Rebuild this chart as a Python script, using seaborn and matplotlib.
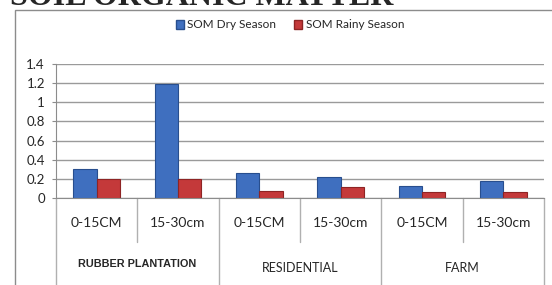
import matplotlib
matplotlib.use("Agg")
import matplotlib.pyplot as plt
import matplotlib.transforms as mtransforms
from matplotlib.patches import Rectangle, Patch
import pandas as pd
import seaborn as sns

groups = ["RUBBER PLANTATION", "RESIDENTIAL", "FARM"]
depths = ["0-15CM", "15-30cm"]
som_dry = [0.30, 1.19, 0.26, 0.22, 0.13, 0.18]
som_rainy = [0.20, 0.20, 0.07, 0.11, 0.06, 0.06]
series = ["SOM Dry Season", "SOM Rainy Season"]
colors = ["#3F6FBF", "#C4393A"]
edges = ["#284E8E", "#8E2424"]

keys = [f"{g}|{d}" for g in groups for d in depths]
df = pd.DataFrame({
    "key": keys * 2,
    "value": som_dry + som_rainy,
    "season": [series[0]] * len(keys) + [series[1]] * len(keys),
})

sns.set_style("white")
plt.rcParams["font.family"] = ["Lato", "DejaVu Sans"]

W, H = 552, 285
fig = plt.figure(figsize=(W / 100, H / 100), dpi=100)
ax = fig.add_axes([56 / W, 1 - 198 / H, (544 - 56) / W, (198 - 64) / H])

sns.barplot(data=df, x="key", y="value", hue="season", order=keys,
            palette=colors, width=0.57, ax=ax, legend=False, saturation=1)
for i, cont in enumerate(ax.containers):
    for bar in cont:
        bar.set_edgecolor(edges[i])
        bar.set_linewidth(0.8)

ax.set_ylim(0, 1.4)
ax.set_xlim(-0.5, len(keys) - 0.5)
ax.set_yticks([0, 0.2, 0.4, 0.6, 0.8, 1, 1.2, 1.4])
ax.set_yticklabels(["0", "0.2", "0.4", "0.6", "0.8", "1", "1.2", "1.4"], fontsize=9.5)
ax.yaxis.grid(True, color="#9a9a9a", linewidth=1)
ax.set_axisbelow(True)
ax.tick_params(axis="y", length=3, color="#8c8c8c", pad=5, left=True)
for s in ["top", "right"]:
    ax.spines[s].set_visible(False)
ax.spines["left"].set_color("#8c8c8c")
ax.spines["bottom"].set_color("#8c8c8c")
ax.set_xticks([])
ax.set_xlabel("")
ax.set_ylabel("")

# category axis: depth labels, separators and group labels
trans = mtransforms.blended_transform_factory(ax.transData, fig.transFigure)
def fy(px):
    return 1 - px / H

for i, k in enumerate(keys):
    ax.text(i, fy(223), k.split("|")[1], transform=trans, ha="center",
            va="center", fontsize=10)
for i in range(len(keys) + 1):
    x = i - 0.5
    bottom = fy(285) if i % 2 == 0 else fy(242)
    ax.plot([x, x], [fy(198), bottom], transform=trans, color="#b0b0b0",
            linewidth=1, clip_on=False)
for j, g in enumerate(groups):
    bold = j == 0
    ax.text(2 * j + 0.5, fy(264 if bold else 268), g, transform=trans,
            ha="center", va="center", fontsize=7.8 if bold else 9,
            fontweight="bold" if bold else "normal",
            family=["Liberation Sans"] if bold else None)

# outer chart frame
fig.patches.append(Rectangle((15 / W, -0.1), 1.2, fy(10) + 0.1,
                             transform=fig.transFigure, fill=False,
                             edgecolor="#8c8c8c", linewidth=1))

handles = [Patch(facecolor=c, edgecolor=e) for c, e in zip(colors, edges)]
fig.legend(handles, series, loc="center", bbox_to_anchor=(290 / W, fy(25)),
           ncol=2, frameon=False, fontsize=8.5, handlelength=0.7,
           handleheight=0.7, handletextpad=0.3, columnspacing=1.5)

# title cut off at top of image
fig.text(10 / W, fy(5), "SOIL ORGANIC MATTER", ha="left", va="baseline",
         fontsize=23, fontweight="bold", family=["Liberation Serif"])

fig.savefig("out.png", dpi=100)
